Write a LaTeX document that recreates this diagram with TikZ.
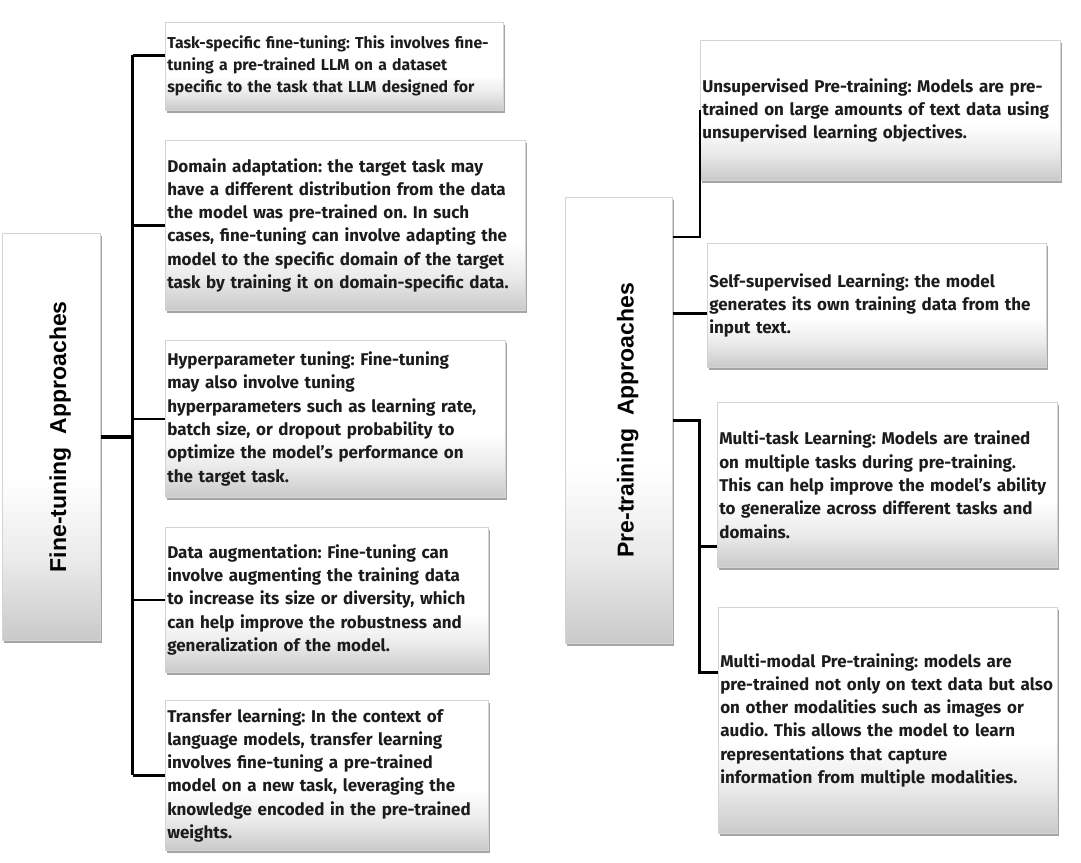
\documentclass[tikz,border=0pt]{standalone}
\usepackage{fontspec}
\setmainfont{Fira Sans}
\newfontfamily\headfont{Liberation Sans}
\usetikzlibrary{positioning,calc,shadows}
\definecolor{ink}{RGB}{28,28,28}
\definecolor{edge}{RGB}{212,212,212}
\pgfdeclareverticalshading{boxfade}{100bp}{color(0bp)=(black!21); color(25bp)=(black!21);
  color(35bp)=(black!8); color(45bp)=(white); color(100bp)=(white)}
\frenchspacing

\begin{document}
\begin{tikzpicture}[x=1pt,y=-1pt,
  B/.style={draw=edge,line width=0.6pt,shading=boxfade,
            drop shadow={shadow xshift=1.5pt,shadow yshift=-3pt,
                         opacity=0.5,fill=black!70},
            anchor=north west,align=left,inner sep=2pt,
            font=\fontsize{17}{23.3}\selectfont\bfseries,text=ink},
  T/.style={B,inner sep=0pt},
  hd/.style={rotate=90,yshift=-9pt,text=black,
             font=\headfont\fontsize{23}{26}\selectfont\bfseries},
  ln/.style={line width=2.6pt,black},
  tk/.style={line width=3.6pt,black}
]
\useasboundingbox (0,0) rectangle (1081,862);

%% left col-x: 2 | 165      right col-x: 565 | 700..718
%% (1 unit = 1pt, y grows downwards)

% titles
\node[T,minimum width=98pt,minimum height=407pt] (FT) at (2,233)
      [label={[hd]center:Fine-tuning\ \ Approaches}] {};
\node[T,minimum width=107pt,minimum height=446pt] (PT) at (565,197)
      [label={[hd]center:Pre-training\ \ Approaches}] {};

% fine-tuning boxes
\node[B,text width=334pt,minimum height=88pt,
      font=\fontsize{15.8}{22}\selectfont\bfseries] (B1) at (165,22)
      {Task-specific fine-tuning: This involves fine-\\
       tuning a pre-trained LLM on a dataset\\
       specific to the task that LLM designed for};
\node[B,text width=356pt,minimum height=170pt] (B2) at (165,140)
      {Domain adaptation: the target task may\\
       have a different distribution from the data\\
       the model was pre-trained on. In such\\
       cases, fine-tuning can involve adapting the\\
       model to the specific domain of the target\\
       task by training it on domain-specific data.};
\node[B,text width=336pt,minimum height=157pt] (B3) at (165,340)
      {Hyperparameter tuning: Fine-tuning\\
       may also involve tuning\\
       hyperparameters such as learning rate,\\
       batch size, or dropout probability to\\
       optimize the model's performance on\\
       the target task.};
\node[B,text width=319pt,minimum height=145pt] (B4) at (165,527)
      {Data augmentation: Fine-tuning can\\
       involve augmenting the training data\\
       to increase its size or diversity, which\\
       can help improve the robustness and\\
       generalization of the model.};
\node[B,text width=319pt,minimum height=150pt] (B5) at (165,700)
      {Transfer learning: In the context of\\
       language models, transfer learning\\
       involves fine-tuning a pre-trained\\
       model on a new task, leveraging the\\
       knowledge encoded in the pre-trained\\
       weights.};

% pre-training boxes
\node[B,text width=356pt,minimum height=140pt] (U1) at (700,40)
      {Unsupervised Pre-training: Models are pre-\\
       trained on large amounts of text data using\\
       unsupervised learning objectives.};
\node[B,text width=335pt,minimum height=124pt] (U2) at (707,243)
      {Self-supervised Learning: the model\\
       generates its own training data from the\\
       input text.};
\node[B,text width=336pt,minimum height=165pt] (U3) at (717,402)
      {Multi-task Learning: Models are trained\\
       on multiple tasks during pre-training.\\
       This can help improve the model's ability\\
       to generalize across different tasks and\\
       domains.};
\node[B,text width=335pt,minimum height=226pt] (U4) at (718,607)
      {Multi-modal Pre-training: models are\\
       pre-trained not only on text data but also\\
       on other modalities such as images or\\
       audio. This allows the model to learn\\
       representations that capture\\
       information from multiple modalities.};

% fine-tuning tree
\coordinate (ftj) at ($(FT.east)+(32,0)$);
\coordinate (B1L) at ($(B1.west)+(0,-11)$);
\draw[tk] (FT.east) -- (ftj);
\draw[ln] (ftj |- B1L) -- (ftj |- B5.west);
\foreach \n in {B1L,B2.west,B3.west,B4.west,B5.west}
  \draw[ln] (ftj |- \n) -- (\n);

% pre-training tree
\draw[ln] ($(PT.north east)+(0,40)$) -| (U1.west);
\coordinate (U2L) at ($(U2.west)+(0,8)$);
\draw[ln] (PT.east |- U2L) -- (U2L);
\coordinate (ptj) at ($(PT.east)+(27,0)$);
\coordinate (U3L) at ($(U3.south west)+(0,-21)$);
\coordinate (U4L) at ($(U4.west)+(0,-48)$);
\draw[ln] (PT.east) -- (ptj) |- (U4L);
\draw[ln] (ptj |- U3L) -- (U3L);

\end{tikzpicture}
\end{document}
